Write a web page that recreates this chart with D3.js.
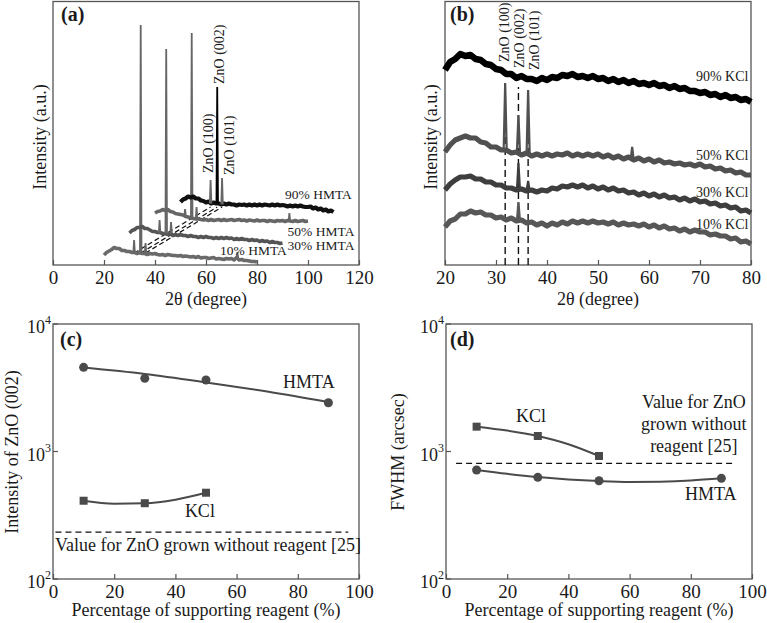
<!DOCTYPE html>
<html><head><meta charset="utf-8">
<script src="https://cdn.jsdelivr.net/npm/d3@7"></script>
<style>
body{margin:0;background:#fff}
svg{display:block}
text{font-family:"Liberation Serif","Times New Roman",serif;fill:#1a1a1a}
</style>
</head><body>
<svg id="chart" width="767" height="623"></svg>
<script>
// ---------------- DATA ----------------
// Panel (a): XRD of HMTA samples (2θ 20..80 step 1), waterfall shifted
const hmtaLabels = ["10% HMTA","30% HMTA","50% HMTA","90% HMTA"];
const hmtaShift = [0,10,20,30];
const hmta10 = [10,12.5,14,15.5,17.5,16.5,16.5,14.5,14.5,13.5,13.5,12.5,12.5,11.5,12.5,11.5,11.5,10.5,11.5,11,11.5,10.5,10,10.5,9.5,10.5,10,9.5,9.5,9,9.5,8.5,9,8.5,8,8.5,7.5,8.5,7,7.5,7.5,6.5,7,7.5,6,6.5,6,5.5,6.5,6,6.5,5,7.5,5,5.5,4.5,4.5,4,3.5,3.5,3];
const hmta30 = [32,34.5,35.5,37.5,37.5,38.5,36.5,36.5,35,33.5,33.5,32.5,32.5,31.5,31.5,30.5,31.5,29.5,30.5,29.5,30.5,29.5,29.5,28.5,29.5,28.5,28.5,27.5,28.5,27.5,28.5,27.5,27.5,26.5,27.5,26.5,27.5,26.5,27.5,26.5,27,25.5,26.5,25.5,26.5,25.5,25.5,24.5,25.5,24.5,25,23.5,24.5,23.5,24,22.5,23.5,22.5,22.5,21.5,22];
const hmta50 = [52,53.5,54,55.5,54.5,55.5,53.5,53,51.5,51,50.5,50,48.5,48,47,46.5,46,46,45.5,45,45.5,44.5,45.5,44.5,45,45.5,44.5,45.5,44.5,45,45.5,44.5,45,45.5,44.5,45,44,45,44.5,44,45,44,44.5,44.5,43.5,44.5,44,43.5,44.5,44,44.5,43.5,44.5,44,43.5,44.5,43.5,44,44.5,43.5,44];
const hmta90 = [63,65.5,66.5,68.5,67.5,68.5,66.5,66.5,64.5,64,62.5,63.5,61.5,62.5,61.5,61.5,60.5,61.5,60.5,61.5,60.5,60.5,59.5,60.5,60,60.5,59.5,60.5,59.5,60.5,59.5,60.5,59.5,60.5,60,59.5,60.5,59.5,60.5,59.5,60,59.5,58.5,59.5,58.5,59.5,58.5,59.5,58.5,58,58,58.5,56.5,57.5,55.5,56.5,54.5,55.5,53.5,54.5,53];
const hmtaPeaks = [
  [[31.8,25],[34.4,240],[36.3,22],[72.3,13]],
  [[31.8,45],[34.4,216],[36.3,43]],
  [[31.8,56],[34.4,232],[36.3,58],[72.7,52]],
  [[31.8,85],[34.4,178],[36.3,87]]
];
const hmtaColors = ["#6a6a6a","#555555","#666666","#111111"];

// Panel (b): XRD of KCl samples (2θ 20..80 step 1)
const kclLabels = ["10% KCl","30% KCl","50% KCl","90% KCl"];
const kcl10 = [38,44,46,51,51,54,52,53,50,50,47,48,45,47,44,45,42,43,40,42,39,42,40,43,41,44,42,44,42,44,42,43,41,43,40,42,40,41,39,41,38,40,37,39,36,37,34,36,33,35,33,33,30,31,29,29,26,27,23,24,21];
const kcl30 = [75,81,85,88,88,89,86,86,83,83,80,80,77,77,75,76,74,75,73,75,74,77,76,79,78,80,78,80,77,79,76,78,75,77,74,75,72,73,70,72,69,71,68,70,67,68,65,67,64,66,63,64,61,62,59,60,57,58,54,55,52];
const kcl50 = [113,120,125,127,129,127,127,123,122,118,118,115,115,112,113,110,112,109,111,109,111,109,111,110,112,109,111,109,111,109,111,108,110,107,109,106,108,105,107,104,106,103,105,102,103,101,102,100,101,99,101,98,99,96,97,94,95,92,93,90,90];
const kcl90 = [195,203,206,211,209,210,206,205,201,200,196,195,191,191,187,189,186,186,184,187,185,188,187,190,189,191,188,189,187,189,186,187,184,186,183,185,182,184,181,182,180,182,179,180,177,179,176,177,174,174,172,173,170,171,168,170,167,168,165,166,163];
const kclPeaks = [
  [[34.4,63]],
  [[34.4,102],[36.3,84]],
  [[31.8,182],[34.4,150],[36.3,175],[56.7,118]],
  []
];
const kclColors = ["#575757","#3e3e3e","#505050","#000000"];
const zno2theta = [31.8,34.4,36.3];
const znoLabels = ["ZnO (100)","ZnO (002)","ZnO (101)"];

// Panel (c): intensity of ZnO (002)
const pct = [10,30,50,90];
const pctKCl = [10,30,50];
const intHMTA = [4570,3750,3640,2410];
const intKCl = [411,393,475];
const intHMTAfit = [[10,4550],[30,4050],[50,3480],[70,2950],[90,2440]];
const intKClfit = [[10,411],[20,390],[30,393],[40,419],[50,475]];
const intRef = 233;

// Panel (d): FWHM
const fwhmHMTA = [716,627,590,616];
const fwhmKCl = [1566,1323,922];
const fwhmHMTAfit = [[10,716],[20,668],[30,630],[40,603],[50,586],[60,577],[70,580],[80,592],[90,616]];
const fwhmKClfit = [[10,1566],[20,1460],[30,1323],[40,1140],[50,922]];
const fwhmRef = 808;

const ticksA = [0,20,40,60,80,100,120];
const ticksB = [20,30,40,50,60,70,80];
const ticksCD = [0,20,40,60,80,100];
const logTicks = [2,3,4];

// ---------------- DRAW ----------------
const svg = d3.select("#chart");
const FRAME = "#555";
const SERIF = '"Liberation Serif","Times New Roman",serif';

function panel(box, xDomain, yScaleType, yDomain){
  const x = d3.scaleLinear().domain(xDomain).range([box.l, box.r]);
  const y = (yScaleType==="log" ? d3.scaleLog() : d3.scaleLinear()).domain(yDomain).range([box.b, box.t]);
  return {x,y};
}
function drawFrame(box, x, xticks, y, ylog){
  const g = svg.append("g");
  g.append("rect").attr("x",box.l).attr("y",box.t).attr("width",box.r-box.l).attr("height",box.b-box.t)
    .attr("fill","none").attr("stroke",FRAME).attr("stroke-width",1.3);
  const ax = d3.axisBottom(x).tickValues(xticks).tickSize(-5).tickPadding(0).tickFormat(d3.format("d"));
  const ga = g.append("g").attr("transform",`translate(0,${box.b})`).call(ax);
  ga.attr("font-family",SERIF);
  ga.select(".domain").remove();
  ga.selectAll("line").attr("stroke",FRAME).attr("stroke-width",1.2);
  ga.selectAll("text").attr("font-size",19).attr("fill","#1a1a1a").attr("dy","1em");
  if(ylog){
    logTicks.forEach(p=>{
      const v = Math.pow(10,p);
      const t = g.append("text").attr("x",box.l-2).attr("y",y(v)+9).attr("text-anchor","end").attr("font-size",18);
      t.append("tspan").text("10");
      t.append("tspan").attr("dy",-9).attr("font-size",12).text(p);
      g.append("line").attr("x1",box.l).attr("x2",box.l+5).attr("y1",y(v)).attr("y2",y(v)).attr("stroke",FRAME).attr("stroke-width",1.2);
    });
  }
  return g;
}
function rotText(cx, cy, str, size, anchor){
  svg.append("text").attr("transform",`translate(${cx},${cy}) rotate(-90)`)
    .attr("text-anchor",anchor||"middle").attr("dy","0.35em").attr("font-size",size).text(str);
}
function txt(x0,y0,str,size,anchor,weight){
  svg.append("text").attr("x",x0).attr("y",y0).attr("font-size",size)
    .attr("text-anchor",anchor||"start").attr("font-weight",weight||"normal").text(str);
}
function basePoints(vals, shift){ return vals.map((v,i)=>[20+i+shift, v]); }
function peakPoints(vals, p, top, shift, hw){
  const base = vals[Math.round(p-20)];
  return [[p+shift-hw, base],[p+shift, top],[p+shift+hw, base]];
}

// ---- Panel (a)
const boxA = {l:53,r:359,t:1.5,b:265};
const A = panel(boxA,[0,120],"lin",[0,263.5]);
drawFrame(boxA, A.x, ticksA);
const lineA = d3.line().x(d=>A.x(d[0])).y(d=>A.y(d[1]));
zno2theta.forEach(p=>{
  svg.append("line").attr("x1",A.x(p)).attr("y1",A.y(12)).attr("x2",A.x(p+30)).attr("y2",A.y(58))
    .attr("stroke","#111").attr("stroke-width",1.2).attr("stroke-dasharray","5,3");
});
[hmta10,hmta30,hmta50,hmta90].forEach((vals,k)=>{
  svg.append("path").attr("d",lineA(basePoints(vals,hmtaShift[k])))
    .attr("fill","none").attr("stroke",hmtaColors[k]).attr("stroke-width",k===3?4.2:3.6).attr("stroke-linejoin","round");
  hmtaPeaks[k].forEach(([p,top])=>{
    svg.append("path").attr("d",lineA(peakPoints(vals,p,top,hmtaShift[k],0.3)))
      .attr("fill","none").attr("stroke",(k===3&&p>34&&p<35)?"#000":"#666").attr("stroke-width",1.8);
  });
});
const hmtaLabelPos = [[65.5,10],[92,15],[92,29.5],[91,66.5]];
hmtaLabels.forEach((s,k)=>txt(A.x(hmtaLabelPos[k][0]),A.y(hmtaLabelPos[k][1]),s,13.5));
const znoPosA = [[60.8,92],[65.1,181],[69.0,90]];
znoLabels.forEach((s,k)=>rotText(A.x(znoPosA[k][0]),A.y(znoPosA[k][1]),s,14,"start"));
txt(61,21,"(a)",20,"start","bold");
rotText(40,137,"Intensity (a.u.)",18);
txt(206,305,"2θ (degree)",18,"middle");

// ---- Panel (b)
const boxB = {l:445,r:751,t:1.5,b:265};
const B = panel(boxB,[20,80],"lin",[0,263.5]);
drawFrame(boxB, B.x, ticksB);
const lineB = d3.line().x(d=>B.x(d[0])).y(d=>B.y(d[1]));
const dashTopB = [182,178,170];
zno2theta.forEach((p,k)=>{
  svg.append("line").attr("x1",B.x(p)).attr("x2",B.x(p)).attr("y1",B.y(0)).attr("y2",B.y(dashTopB[k]))
    .attr("stroke","#111").attr("stroke-width",1.4).attr("stroke-dasharray","7,4");
});
[kcl10,kcl30,kcl50,kcl90].forEach((vals,k)=>{
  svg.append("path").attr("d",lineB(basePoints(vals,0)))
    .attr("fill","none").attr("stroke",kclColors[k]).attr("stroke-width",k===3?6.5:5.2).attr("stroke-linejoin","round");
  kclPeaks[k].forEach(([p,top])=>{
    svg.append("path").attr("d",lineB(peakPoints(vals,p,top,0,0.3)))
      .attr("fill","none").attr("stroke",kclColors[k]).attr("stroke-width",2.2);
  });
});
const kclLabelPos = [[69.2,36],[69.2,68],[69.2,105],[69.2,184.5]];
kclLabels.forEach((s,k)=>txt(B.x(kclLabelPos[k][0]),B.y(kclLabelPos[k][1]),s,14));
const znoPosB = [[31.6,203],[34.6,197],[37.5,195]];
znoLabels.forEach((s,k)=>rotText(B.x(znoPosB[k][0]),B.y(znoPosB[k][1]),s,14,"start"));
txt(450,21,"(b)",20,"start","bold");
rotText(431,137,"Intensity (a.u.)",18);
txt(598,305,"2θ (degree)",18,"middle");

// ---- Panel (c)
const boxC = {l:53,r:359,t:324,b:579};
const C = panel(boxC,[0,100],"log",[100,10000]);
drawFrame(boxC, C.x, ticksCD, C.y, true);
const lineC = d3.line().x(d=>C.x(d[0])).y(d=>C.y(d[1])).curve(d3.curveMonotoneX);
const SER = "#4a4a4a";
svg.append("line").attr("x1",C.x(0.8)).attr("x2",C.x(96.5)).attr("y1",C.y(intRef)).attr("y2",C.y(intRef))
  .attr("stroke","#111").attr("stroke-width",1.2).attr("stroke-dasharray","6,4");
svg.append("path").attr("d",lineC(intHMTAfit)).attr("fill","none").attr("stroke",SER).attr("stroke-width",2);
svg.append("path").attr("d",lineC(intKClfit)).attr("fill","none").attr("stroke",SER).attr("stroke-width",2);
pct.forEach((p,i)=>svg.append("circle").attr("cx",C.x(p)).attr("cy",C.y(intHMTA[i])).attr("r",4.5).attr("fill",SER));
pctKCl.forEach((p,i)=>svg.append("rect").attr("x",C.x(p)-4).attr("y",C.y(intKCl[i])-4).attr("width",8).attr("height",8).attr("fill",SER));
txt(C.x(75.2),C.y(3150),"HMTA",18);
txt(C.x(43.1),C.y(306),"KCl",18);
txt(C.x(0.65),C.y(166),"Value for ZnO grown without reagent [25]",18);
txt(60,346,"(c)",20,"start","bold");
rotText(12,452,"Intensity of ZnO (002)",18);
txt(206,616,"Percentage of supporting reagent (%)",18,"middle");

// ---- Panel (d)
const boxD = {l:446,r:752,t:324,b:579};
const D = panel(boxD,[0,100],"log",[100,10000]);
drawFrame(boxD, D.x, ticksCD, D.y, true);
const lineD = d3.line().x(d=>D.x(d[0])).y(d=>D.y(d[1])).curve(d3.curveMonotoneX);
svg.append("line").attr("x1",D.x(3.3)).attr("x2",D.x(94.8)).attr("y1",D.y(fwhmRef)).attr("y2",D.y(fwhmRef))
  .attr("stroke","#111").attr("stroke-width",1.2).attr("stroke-dasharray","6,4");
svg.append("path").attr("d",lineD(fwhmHMTAfit)).attr("fill","none").attr("stroke",SER).attr("stroke-width",2);
svg.append("path").attr("d",lineD(fwhmKClfit)).attr("fill","none").attr("stroke",SER).attr("stroke-width",2);
pct.forEach((p,i)=>svg.append("circle").attr("cx",D.x(p)).attr("cy",D.y(fwhmHMTA[i])).attr("r",4.5).attr("fill",SER));
pctKCl.forEach((p,i)=>svg.append("rect").attr("x",D.x(p)-4).attr("y",D.y(fwhmKCl[i])-4).attr("width",8).attr("height",8).attr("fill",SER));
txt(D.x(22.9),D.y(1703),"KCl",18);
txt(D.x(78.1),D.y(417),"HMTA",18);
txt(D.x(81),D.y(2193),"Value for ZnO",18,"middle");
txt(D.x(81),D.y(1476),"grown without",18,"middle");
txt(D.x(81),D.y(991),"reagent [25]",18,"middle");
txt(450,346,"(d)",20,"start","bold");
rotText(398,452,"FWHM (arcsec)",18);
txt(599,616,"Percentage of supporting reagent (%)",18,"middle");
</script>
</body></html>
